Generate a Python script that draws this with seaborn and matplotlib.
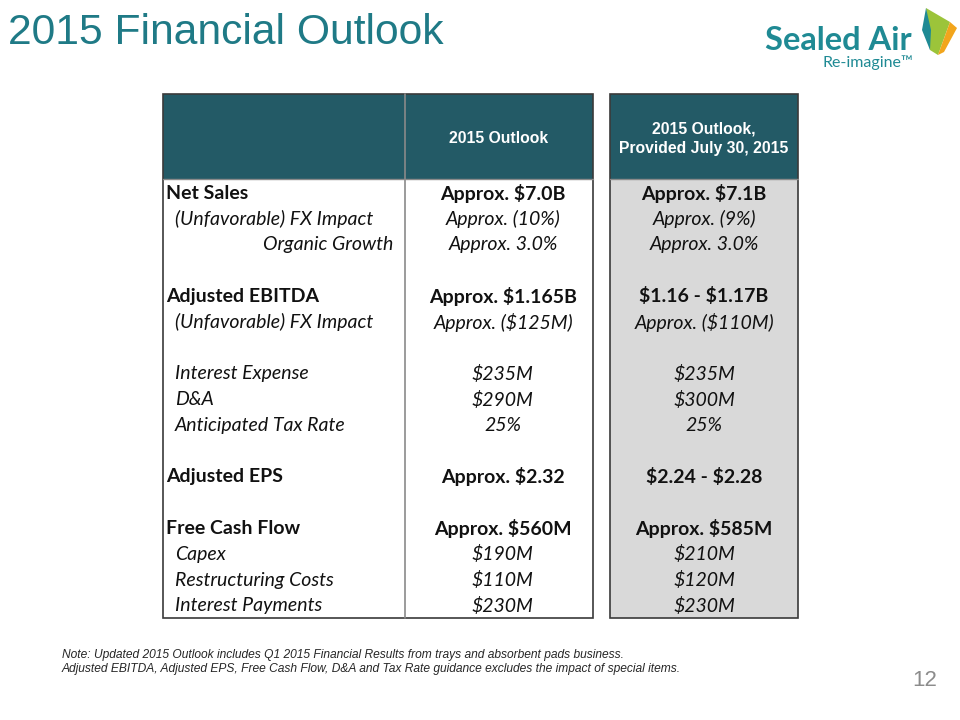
import numpy as np
import seaborn as sns
import matplotlib.pyplot as plt
from matplotlib.patches import Rectangle, Polygon

# table content
row_labels = ["Net Sales", "(Unfavorable) FX Impact", "Organic Growth", "",
              "Adjusted EBITDA", "(Unfavorable) FX Impact", "",
              "Interest Expense", "D&A", "Anticipated Tax Rate", "",
              "Adjusted EPS", "",
              "Free Cash Flow", "Capex", "Restructuring Costs", "Interest Payments"]
outlook = ["Approx. $7.0B", "Approx. (10%)", "Approx. 3.0%", "",
           "Approx. $1.165B", "Approx. ($125M)", "",
           "$235M", "$290M", "25%", "",
           "Approx. $2.32", "",
           "Approx. $560M", "$190M", "$110M", "$230M"]
outlook_july = ["Approx. $7.1B", "Approx. (9%)", "Approx. 3.0%", "",
                "$1.16 - $1.17B", "Approx. ($110M)", "",
                "$235M", "$300M", "25%", "",
                "$2.24 - $2.28", "",
                "Approx. $585M", "$210M", "$120M", "$230M"]
row_style = ["bold", "italic", "right", "", "bold", "italic", "",
             "italic", "italic", "italic", "", "bold", "",
             "bold", "italic", "italic", "italic"]
headers = ["2015 Outlook", "2015 Outlook,\nProvided July 30, 2015"]

sns.set_theme(style="white")
plt.rcParams["font.family"] = ["Liberation Sans", "DejaVu Sans"]

TEAL = "#235a66"
BODY_FONT = ["Lato", "DejaVu Sans"]
FS = 14

fig = plt.figure(figsize=(9.6, 7.2), dpi=100)
ax = fig.add_axes([0, 0, 1, 1])
ax.set_xlim(0, 960)
ax.set_ylim(720, 0)
ax.axis("off")

top, head_bot, row_h = 94, 179, 25.8
n = len(row_labels)
bot = head_bot + n * row_h
x0, x1, x2 = 163, 405, 593
x3, x4 = 610, 798

# header cells
ax.add_patch(Rectangle((x0, top), x2 - x0, head_bot - top, fc=TEAL, ec="none"))
ax.add_patch(Rectangle((x3, top), x4 - x3, head_bot - top, fc=TEAL, ec="none"))
# body cells
ax.add_patch(Rectangle((x0, head_bot), x2 - x0, bot - head_bot, fc="white", ec="none"))
ax.add_patch(Rectangle((x3, head_bot), x4 - x3, bot - head_bot, fc="#d9d9d9", ec="none"))
# borders
ax.add_patch(Rectangle((x0, top), x2 - x0, bot - top, fc="none", ec="#3a3a3a", lw=1.2))
ax.add_patch(Rectangle((x3, top), x4 - x3, bot - top, fc="none", ec="#3a3a3a", lw=1.2))
ax.plot([x1, x1], [top, bot], color="#8a8a8a", lw=1.2)
ax.plot([x0, x2], [head_bot, head_bot], color="#8a8a8a", lw=1.0)
ax.plot([x3, x4], [head_bot, head_bot], color="#8a8a8a", lw=1.0)

ax.text((x1 + x2) / 2, (top + head_bot) / 2 + 2, headers[0], ha="center", va="center",
        color="white", fontsize=11.3, fontweight="bold", linespacing=1.35)
ax.text((x3 + x4) / 2, (top + head_bot) / 2 + 2, headers[1], ha="center", va="center",
        color="white", fontsize=11.3, fontweight="bold", linespacing=1.35)

for i, (lab, a, b, st) in enumerate(zip(row_labels, outlook, outlook_july, row_style)):
    y = head_bot + (i + 0.55) * row_h
    if not lab:
        continue
    common = dict(va="center", fontsize=FS, family=BODY_FONT, parse_math=False,
                  color="#111111")
    if st == "bold":
        kw = dict(fontweight="bold", fontstyle="normal")
        ax.text(x0 + 3, y, lab, ha="left", **common, **kw)
    elif st == "right":
        kw = dict(fontweight="normal", fontstyle="italic")
        ax.text(x1 - 12, y, lab, ha="right", **common, **kw)
    else:
        kw = dict(fontweight="normal", fontstyle="italic")
        ax.text(x0 + 12, y, lab, ha="left", **common, **kw)
    ax.text((x1 + x2) / 2 + 4, y, a, ha="center", **common, **kw)
    ax.text((x3 + x4) / 2, y, b, ha="center", **common, **kw)

# title
ax.text(8, 33, "2015 Financial Outlook", ha="left", va="center", fontsize=30.7,
        color="#1f7a86")

# logo
ax.text(765, 40, "Sealed Air", ha="left", va="center", fontsize=23.5, fontweight="bold",
        color="#1f8a94", family=["Lato", "DejaVu Sans"])
ax.text(823, 63, "Re-imagine\u2122", ha="left", va="center", fontsize=11.5,
        color="#1f8a94", family=["Lato", "DejaVu Sans"])
ax.add_patch(Polygon([[926, 8], [950, 22], [938, 55], [930, 50]], closed=True,
                     fc="#9cc43a", ec="none"))
ax.add_patch(Polygon([[938, 55], [950, 22], [957, 28], [944, 52]], closed=True,
                     fc="#f2a51c", ec="none"))
ax.add_patch(Polygon([[926, 8], [931, 30], [930, 50], [922, 30]], closed=True,
                     fc="#1f8a94", ec="none"))

# footnote
ax.text(62, 655, "Note: Updated 2015 Outlook includes Q1 2015 Financial Results from trays and absorbent pads business.",
        ha="left", va="center", fontsize=8.65, fontstyle="italic")
ax.text(62, 669, "Adjusted EBITDA, Adjusted EPS, Free Cash Flow, D&A and Tax Rate guidance excludes the impact of special items.",
        ha="left", va="center", fontsize=8.65, fontstyle="italic")
ax.text(937, 680, "12", ha="right", va="center", fontsize=16, color="#8c8c8c")

fig.savefig("out.png", dpi=100)
